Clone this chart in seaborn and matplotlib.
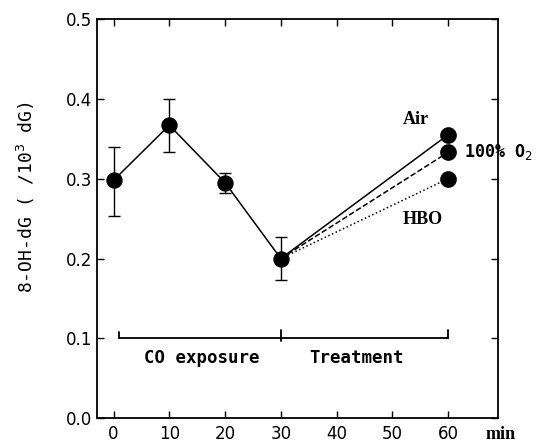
import matplotlib
matplotlib.use("Agg")
import matplotlib.pyplot as plt
import seaborn as sns
import pandas as pd

# Data
times = [0, 10, 20, 30]
values = [0.298, 0.367, 0.295, 0.200]
err_low = [0.045, 0.034, 0.013, 0.027]
err_high = [0.042, 0.033, 0.012, 0.027]
treat_names = ["Air", "100% O$_2$", "HBO"]
treat_end = [0.355, 0.333, 0.300]
treat_times = [30, 60]
xticks = [0, 10, 20, 30, 40, 50, 60]
yticks = [0.0, 0.1, 0.2, 0.3, 0.4, 0.5]

sns.set_theme(style="ticks")
plt.rcParams['font.family'] = ['DejaVu Sans']
plt.rcParams['text.color'] = 'black'

fig = plt.figure(figsize=(5.38, 4.43), dpi=100)
ax = fig.add_axes([0.180, 0.056, 0.746, 0.901])

df = pd.DataFrame({"t": times, "v": values})
sns.lineplot(data=df, x="t", y="v", ax=ax, color="black", lw=1.1,
             marker="o", markersize=11, markeredgecolor="black")
ax.errorbar(times, values, yerr=[err_low, err_high], fmt="none",
            ecolor="black", elinewidth=1, capsize=4, capthick=1)

styles = ["-", "--", ":"]
for name, end, ls in zip(treat_names, treat_end, styles):
    d = pd.DataFrame({"t": treat_times, "v": [values[-1], end]})
    sns.lineplot(data=d, x="t", y="v", ax=ax, color="black", lw=1.1,
                 linestyle=ls)
    ax.plot([60], [end], "o", color="black", markersize=11)

# bracket
ax.plot([1, 60], [0.1, 0.1], color="black", lw=1.3)
ax.plot([1, 1], [0.1, 0.108], color="black", lw=1.3)
ax.plot([30, 30], [0.097, 0.11], color="black", lw=1.3)
ax.plot([60, 60], [0.1, 0.11], color="black", lw=1.3)

bold_mono = dict(family="DejaVu Sans Mono", fontweight="bold", fontsize=12.5,
                 color="black")
ax.text(15.8, 0.076, "CO exposure", ha="center", va="center", **bold_mono)
ax.text(43.6, 0.076, "Treatment", ha="center", va="center", **bold_mono)

serif_b = dict(family="Liberation Serif", fontweight="bold", fontsize=13,
               color="black")
ax.text(54.2, 0.374, "Air", ha="center", va="center", **serif_b)
ax.text(55.5, 0.249, "HBO", ha="center", va="center", **serif_b)
ax.text(62.9, 0.334, treat_names[1], ha="left", va="center",
        family="DejaVu Sans Mono", fontsize=12, fontweight="bold", color="black")

ax.set_xlim(-3, 69)
ax.set_ylim(0, 0.5)
ax.set_xticks(xticks)
ax.set_yticks(yticks)
ax.set_yticklabels([f"{y:.1f}" for y in yticks])
ax.tick_params(direction="in", top=True, right=True, labelsize=12,
               length=5, width=1, color="black", labelcolor="black")
ax.tick_params(axis="x", pad=5)
ax.set_xlabel("")
ax.set_ylabel("8-OH-dG ( /10$^3$ dG)", family="DejaVu Sans Mono",
              fontsize=13, color="black")
ax.yaxis.set_label_coords(-0.15, 0.554)
ax.text(69.5, -0.021, "min", ha="center", va="center", family="Liberation Serif",
        fontsize=13, fontweight="bold", clip_on=False, color="black")
for s in ax.spines.values():
    s.set_linewidth(1.3)
    s.set_color("black")

fig.savefig("out.png", dpi=100)
